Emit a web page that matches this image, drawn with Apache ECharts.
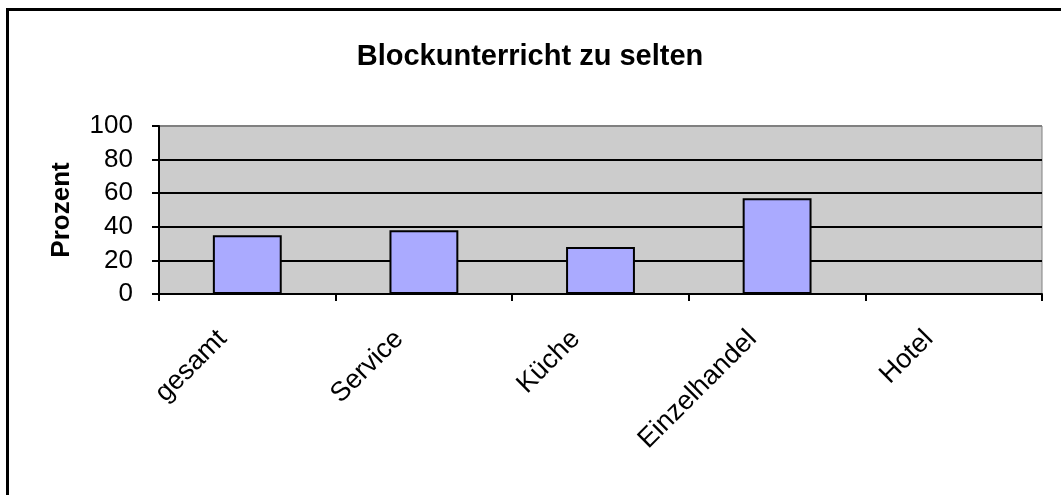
<!DOCTYPE html>
<html>
<head>
<meta charset="utf-8">
<script src="https://cdn.jsdelivr.net/npm/echarts@6/dist/echarts.min.js"></script>
<style>
  html, body { margin: 0; padding: 0; background: #fff; }
  #chart { width: 1061px; height: 495px; }
</style>
</head>
<body>
<div id="chart"></div>
<script>
  var categories = ['gesamt', 'Service', 'Küche', 'Einzelhandel', 'Hotel'];
  var prozent = [35, 38, 28, 57, 0];
  var yTicks = { min: 0, max: 100, interval: 20 };

  var chart = echarts.init(document.getElementById('chart'));
  chart.setOption({
    animation: false,
    backgroundColor: '#fff',
    textStyle: { fontFamily: 'Liberation Sans, Arial, sans-serif', color: '#000' },
    title: {
      text: 'Blockunterricht zu selten',
      left: 525,
      top: 37,
      textAlign: 'center',
      textStyle: { fontSize: 29, fontWeight: 'bold', color: '#000', fontFamily: 'Liberation Sans, Arial, sans-serif' }
    },
    graphic: [{
      type: 'rect',
      shape: { x: 7.5, y: 9.5, width: 1200, height: 700 },
      style: { fill: 'none', stroke: '#000', lineWidth: 3 },
      silent: true
    }],
    grid: {
      left: 159, right: 19, top: 126, bottom: 201,
      show: true,
      backgroundColor: '#cccccc',
      borderColor: '#808080',
      borderWidth: 1
    },
    xAxis: {
      type: 'category',
      data: categories,
      boundaryGap: true,
      axisLine: { lineStyle: { color: '#000', width: 2 } },
      axisTick: { show: true, alignWithLabel: false, length: 7, lineStyle: { color: '#000', width: 2 } },
      axisLabel: {
        rotate: 45,
        interval: 0,
        margin: 16,
        padding: [0, 35, 0, 0],
        fontSize: 27,
        color: '#000'
      },
      splitLine: { show: false }
    },
    yAxis: {
      type: 'value',
      min: yTicks.min,
      max: yTicks.max,
      interval: yTicks.interval,
      name: 'Prozent',
      nameLocation: 'middle',
      nameRotate: 90,
      nameGap: 84,
      nameTextStyle: { fontSize: 26, fontWeight: 'bold', color: '#000' },
      axisLine: { show: true, lineStyle: { color: '#000', width: 2 } },
      axisTick: { show: true, length: 7, lineStyle: { color: '#000', width: 2 } },
      axisLabel: { fontSize: 26, margin: 26, color: '#000' },
      splitLine: {
        show: true,
        lineStyle: { color: ['#000', '#000', '#000', '#000', '#000', '#808080'], width: 2 }
      }
    },
    series: [{
      name: 'Prozent',
      type: 'bar',
      data: prozent,
      barWidth: '39%',
      itemStyle: { color: '#aaaaff', borderColor: '#000', borderWidth: 2 }
    }]
  });
</script>
</body>
</html>
